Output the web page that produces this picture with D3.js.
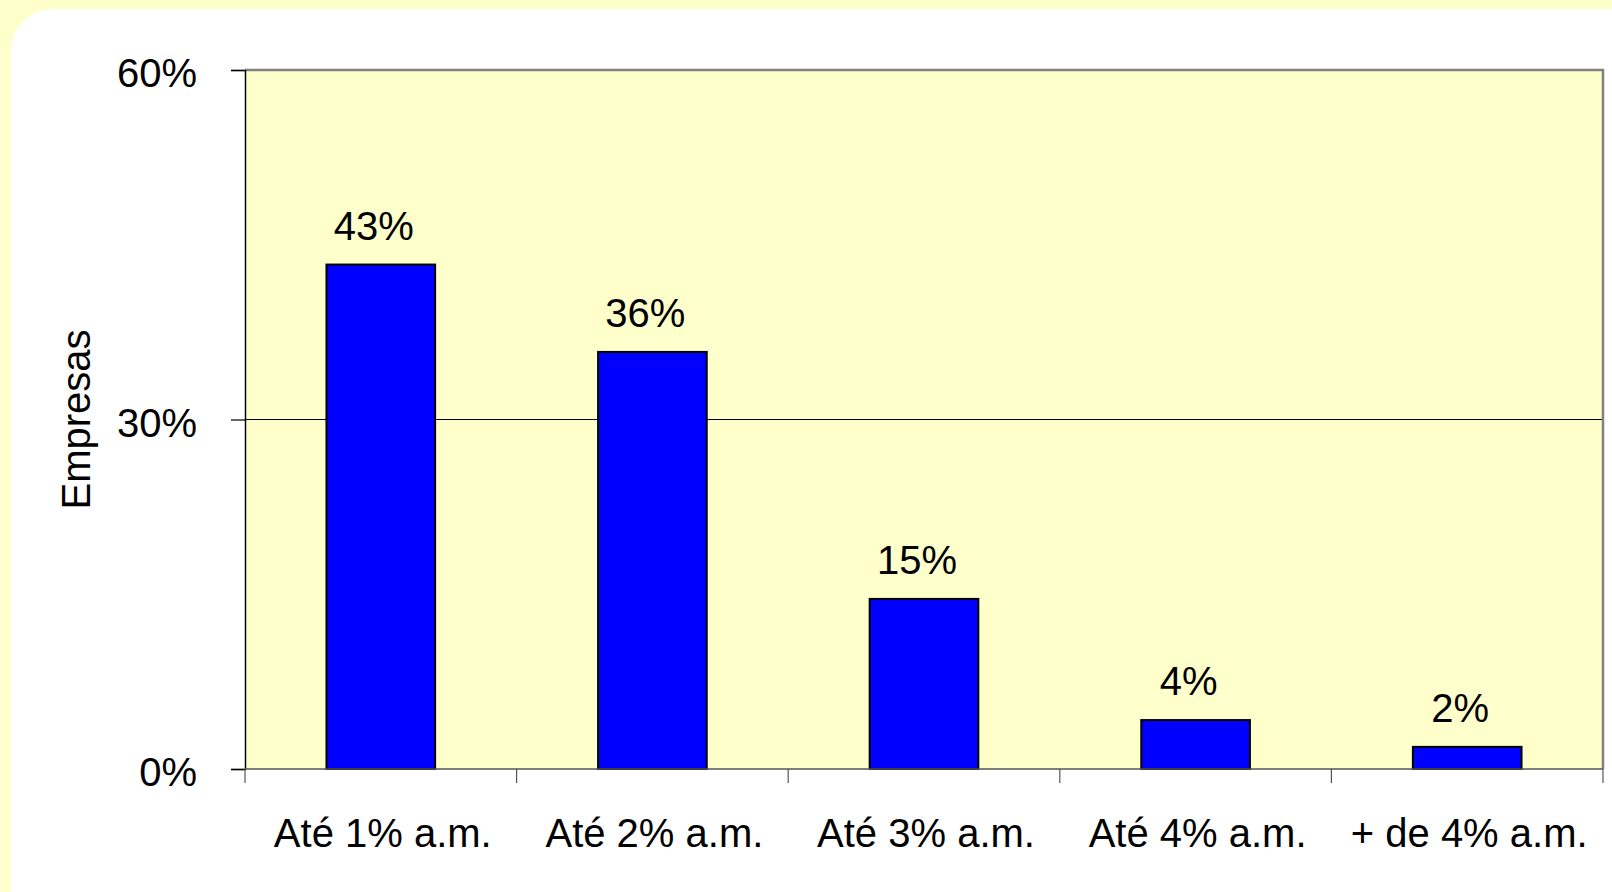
<!DOCTYPE html>
<html>
<head>
<meta charset="utf-8">
<script src="https://cdn.jsdelivr.net/npm/d3@7"></script>
<style>
  html, body { margin: 0; padding: 0; background: #ffffcc; }
  svg { display: block; }
  text { font-family: "Liberation Sans", Arial, sans-serif; fill: #000; }
</style>
</head>
<body>
<svg id="chart" width="1612" height="892"></svg>
<script>
// data
var categories = ["Até 1% a.m.", "Até 2% a.m.", "Até 3% a.m.", "Até 4% a.m.", "+ de 4% a.m."];
var values = [43.3, 35.8, 14.6, 4.2, 1.9];
var valueLabels = ["43%", "36%", "15%", "4%", "2%"];
var yTicks = [0, 30, 60];

var main = function() {
    var svg = d3.select("#chart");
    var left = 245, right = 1603, top = 70, bottom = 769;

    // white rounded panel
    svg.append("rect")
        .attr("x", 11).attr("y", 9)
        .attr("width", 1660).attr("height", 940)
        .attr("rx", 42).attr("ry", 42)
        .attr("fill", "#fff");

    var x = d3.scaleBand()
        .domain(categories)
        .range([left, right])
        .paddingInner(0.6)
        .paddingOuter(0.3);

    var y = d3.scaleLinear().domain([0, 60]).range([bottom, top]);

    // plot area
    svg.append("rect")
        .attr("x", left).attr("y", top)
        .attr("width", right - left).attr("height", bottom - top)
        .attr("fill", "#ffffcc");

    // gridline at 30%
    svg.append("g")
        .selectAll("line")
        .data(yTicks.filter(function(d) { return d > 0 && d < 60; }))
        .join("line")
        .attr("x1", left).attr("x2", right)
        .attr("y1", function(d) { return y(d); })
        .attr("y2", function(d) { return y(d); })
        .attr("stroke", "#000").attr("stroke-width", 1);

    // plot border (top and right in grey)
    svg.append("path")
        .attr("d", "M" + left + "," + top + "H" + right + "V" + bottom)
        .attr("fill", "none").attr("stroke", "#808080").attr("stroke-width", 2.5);

    // bars
    svg.append("g")
        .selectAll("rect")
        .data(values)
        .join("rect")
        .attr("x", function(d, i) { return x(categories[i]); })
        .attr("y", function(d) { return y(d); })
        .attr("width", x.bandwidth())
        .attr("height", function(d) { return y(0) - y(d); })
        .attr("fill", "#0000ff")
        .attr("stroke", "#000")
        .attr("stroke-width", 2);

    // value labels
    svg.append("g")
        .selectAll("text")
        .data(values)
        .join("text")
        .attr("x", function(d, i) { return x(categories[i]) + x.bandwidth() / 2 - 7; })
        .attr("y", function(d) { return y(d) - 25; })
        .attr("text-anchor", "middle")
        .attr("font-size", 40)
        .text(function(d, i) { return valueLabels[i]; });

    // y axis
    var yAxis = svg.append("g")
        .attr("transform", "translate(" + left + ",0)")
        .call(d3.axisLeft(y).tickValues(yTicks).tickSize(14).tickPadding(34)
            .tickFormat(function(d) { return d + "%"; }));
    yAxis.select(".domain").attr("stroke", "#000").attr("stroke-width", 1.5);
    yAxis.selectAll(".tick line").attr("stroke", "#000").attr("stroke-width", 1.2);
    yAxis.selectAll(".tick text")
        .attr("font-family", "Liberation Sans, Arial, sans-serif")
        .attr("font-size", 40).attr("fill", "#000")
        .attr("dy", "0.42em");

    // x axis, ticks at band boundaries
    var bounds = categories.map(function(c) { return x(c) - x.step() * x.paddingInner() / 2; });
    bounds[0] = left;
    bounds.push(right);
    svg.append("line")
        .attr("x1", left).attr("x2", right)
        .attr("y1", bottom).attr("y2", bottom)
        .attr("stroke", "#555").attr("stroke-width", 1.5);
    svg.append("g")
        .selectAll("line")
        .data(bounds)
        .join("line")
        .attr("x1", function(d) { return d; }).attr("x2", function(d) { return d; })
        .attr("y1", bottom).attr("y2", bottom + 14)
        .attr("stroke", "#555").attr("stroke-width", 1.2);

    svg.append("g")
        .selectAll("text")
        .data(categories)
        .join("text")
        .attr("x", function(d) { return x(d) + x.bandwidth() / 2 + 2; })
        .attr("y", 847)
        .attr("text-anchor", "middle")
        .attr("font-size", 40)
        .text(function(d) { return d; });

    // y axis title
    svg.append("text")
        .attr("transform", "translate(90," + (y(30)) + ") rotate(-90)")
        .attr("text-anchor", "middle")
        .attr("font-size", 40)
        .text("Empresas");
};
main();
</script>
</body>
</html>
